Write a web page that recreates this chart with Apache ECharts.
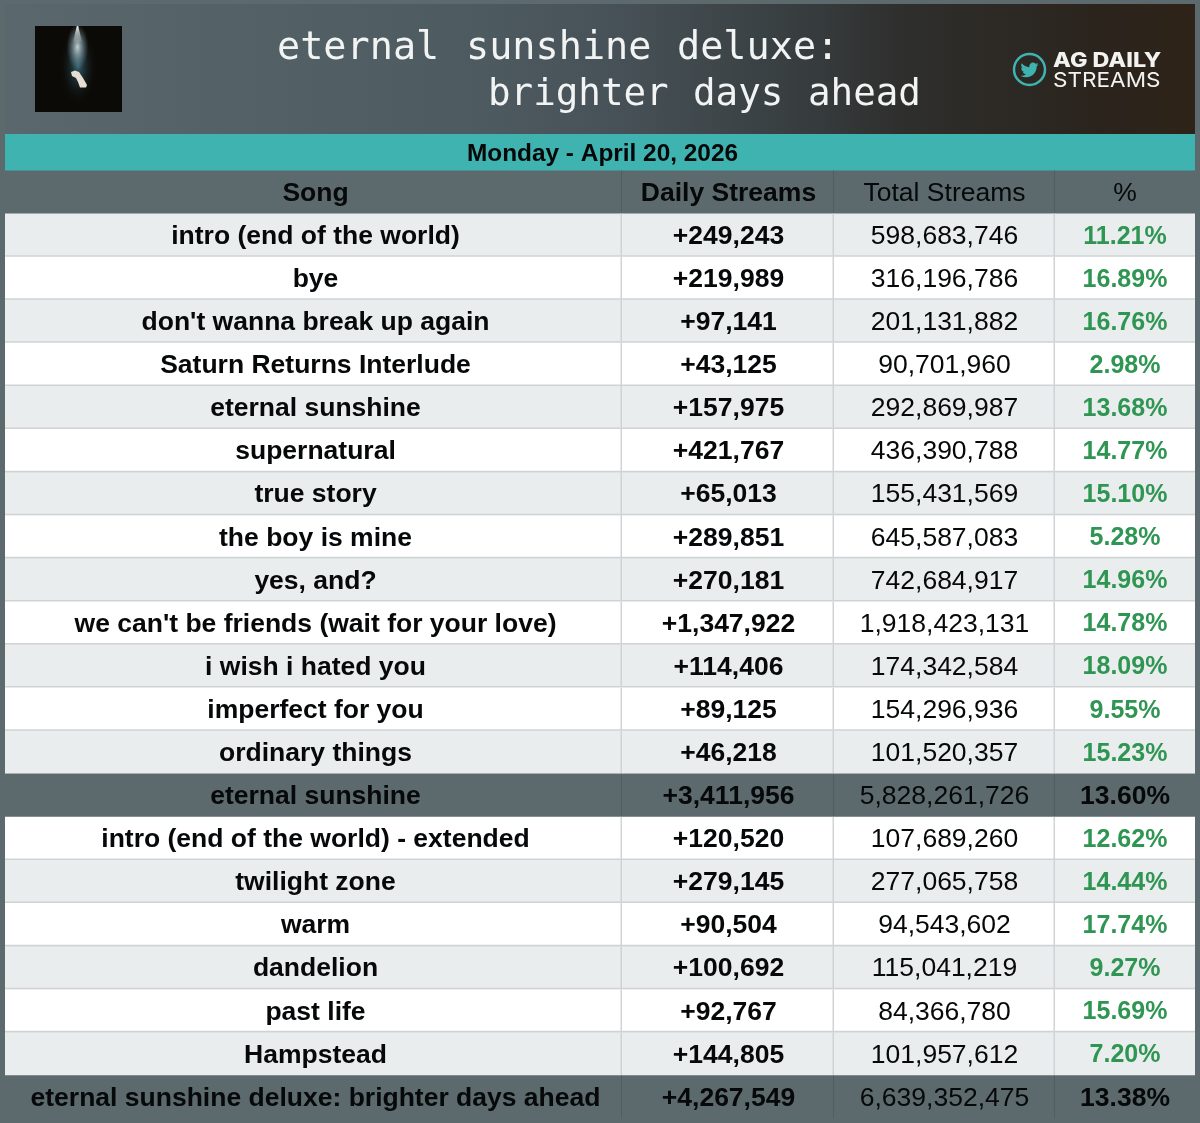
<!DOCTYPE html>
<html>
<head>
<meta charset="utf-8">
<title>eternal sunshine deluxe: brighter days ahead</title>
<script src="https://cdn.jsdelivr.net/npm/echarts@6/dist/echarts.min.js"></script>
<style>
  html, body { margin: 0; padding: 0; background: #5c6a6e; }
  #main { width: 1200px; height: 1123px; }
</style>
</head>
<body>
<div id="main"></div>
<script>
// table content
var columns = ['Song', 'Daily Streams', 'Total Streams', '%'];
var songs = [
  'intro (end of the world)', 'bye', "don't wanna break up again", 'Saturn Returns Interlude',
  'eternal sunshine', 'supernatural', 'true story', 'the boy is mine', 'yes, and?',
  "we can't be friends (wait for your love)", 'i wish i hated you', 'imperfect for you',
  'ordinary things', 'eternal sunshine', 'intro (end of the world) - extended', 'twilight zone',
  'warm', 'dandelion', 'past life', 'Hampstead', 'eternal sunshine deluxe: brighter days ahead'
];
var dailyStreams = [
  '+249,243', '+219,989', '+97,141', '+43,125', '+157,975', '+421,767', '+65,013', '+289,851',
  '+270,181', '+1,347,922', '+114,406', '+89,125', '+46,218', '+3,411,956', '+120,520',
  '+279,145', '+90,504', '+100,692', '+92,767', '+144,805', '+4,267,549'
];
var totalStreams = [
  '598,683,746', '316,196,786', '201,131,882', '90,701,960', '292,869,987', '436,390,788',
  '155,431,569', '645,587,083', '742,684,917', '1,918,423,131', '174,342,584', '154,296,936',
  '101,520,357', '5,828,261,726', '107,689,260', '277,065,758', '94,543,602', '115,041,219',
  '84,366,780', '101,957,612', '6,639,352,475'
];
var percents = [
  '11.21%', '16.89%', '16.76%', '2.98%', '13.68%', '14.77%', '15.10%', '5.28%', '14.96%',
  '14.78%', '18.09%', '9.55%', '15.23%', '13.60%', '12.62%', '14.44%', '17.74%', '9.27%',
  '15.69%', '7.20%', '13.38%'
];
var summaryRows = [13, 20]; // subtotal rows, index into songs

// x axis runs in page pixels: column borders and where the text sits
var columnEdges = [5, 622, 834, 1055, 1195];
var columnCentres = [315.5, 728.5, 944.5, 1125];

var BG = '#5c6a6e';
var FONT = '"Liberation Sans", Arial, sans-serif';
var MONO = '"DejaVu Sans Mono", monospace';
var rowLabels = ['header'].concat(songs);
var cells = [];
var bodyColumns = [songs, dailyStreams, totalStreams, percents];
columns.forEach(function (name, c) {
  cells.push([c, 0, name]);
  bodyColumns[c].forEach(function (v, r) {
    cells.push([c, r + 1, v]);
  });
});

function renderCell(params, api) {
  var col = api.value(0);
  var row = api.value(1);
  var text = cells[params.dataIndex][2];
  var left = api.coord([columnEdges[col], row])[0];
  var right = api.coord([columnEdges[col + 1], row])[0];
  var cy = api.coord([left, row])[1];
  var h = api.size([0, 1])[1];
  var top = cy - h / 2;
  var isHeader = row === 0;
  var isSum = summaryRows.indexOf(row - 1) >= 0;
  var plain = isHeader || isSum;
  // the block after the first subtotal starts again on white
  var light = row < 14 ? row % 2 === 1 : row % 2 === 0;
  var fill = plain ? BG : (light ? '#e9edee' : '#ffffff');
  var lineColor = plain ? '#505d61' : '#cfd3d5';
  var weight = 'bold';
  var color = '#060809';
  var size = 26.5;
  if (col === 2) weight = 'normal';
  if (isHeader && col === 3) weight = 'normal';
  if (!plain && col === 3) { color = '#2f9552'; size = 25; }
  var children = [{
    type: 'rect',
    shape: { x: left, y: top, width: right - left, height: row === 14 ? h + 2 : h },
    style: { fill: fill }
  }];
  if (col < 3) {
    children.push({
      type: 'line',
      shape: { x1: right - 0.5, y1: top, x2: right - 0.5, y2: top + h },
      style: { stroke: lineColor, lineWidth: plain ? 1 : 2 }
    });
  }
  if (!plain && row !== 13 && row !== 20) {
    children.push({
      type: 'line',
      shape: { x1: left, y1: top + h - 0.5, x2: right, y2: top + h - 0.5 },
      style: { stroke: lineColor, lineWidth: 2 }
    });
  }
  children.push({
    type: 'text',
    style: {
      x: api.coord([columnCentres[col], row])[0],
      y: cy + 1.5,
      text: text,
      font: weight + ' ' + size + 'px ' + FONT,
      fill: color,
      textAlign: 'center',
      textVerticalAlign: 'middle'
    }
  });
  return { type: 'group', children: children };
}

// zrender does not read packed arc flags, so they are written out
var birdPath = 'M23.953 4.57 a10 10 0 0 1 -2.825 .775 a4.958 4.958 0 0 0 2.163 -2.723 c-.951 .555 -2.005 .959 -3.127 1.184 a4.92 4.92 0 0 0 -8.384 4.482 C7.69 8.095 4.067 6.13 1.64 3.162 a4.822 4.822 0 0 0 -.666 2.475 c0 1.71 .87 3.213 2.188 4.096 a4.904 4.904 0 0 1 -2.228 -.616 v.06 a4.923 4.923 0 0 0 3.946 4.827 a4.996 4.996 0 0 1 -2.212 .085 a4.936 4.936 0 0 0 4.604 3.417 a9.867 9.867 0 0 1 -6.102 2.105 c-.39 0 -.779 -.023 -1.17 -.067 a13.995 13.995 0 0 0 7.557 2.209 c9.053 0 13.998 -7.496 13.998 -13.985 c0 -.21 0 -.42 -.015 -.63 A9.935 9.935 0 0 0 24 4.59 z';
echarts.graphic.registerShape('bird', echarts.graphic.extendPath(birdPath, {}));

function titleWord(x, y, word, size) {
  return {
    type: 'text',
    style: { x: x, y: y, text: word, font: size + 'px ' + MONO, fill: '#f2f4f4', textAlign: 'left', textVerticalAlign: 'middle' }
  };
}

function logoWord(y, word, weight, stretch) {
  return {
    type: 'text', x: 1053, y: y, scaleX: stretch,
    style: { x: 0, y: 0, text: word, font: weight + ' 20.5px Inter, sans-serif', fill: '#f2f2f0', textAlign: 'left', textVerticalAlign: 'middle' }
  };
}

// radial fills stay round, so the glows are stretched circles
function glow(x, y, r, stretch, inner, outer) {
  return {
    type: 'circle', x: x, y: y, scaleY: stretch,
    shape: { cx: 0, cy: 0, r: r },
    style: {
      fill: new echarts.graphic.RadialGradient(0.5, 0.5, 0.5, [
        { offset: 0, color: inner }, { offset: 1, color: outer }
      ])
    }
  };
}

var chart = echarts.init(document.getElementById('main'));
chart.setOption({
  animation: false,
  backgroundColor: BG,
  grid: { left: 0, right: 0, top: 170.5, bottom: 4.5 },
  xAxis: { type: 'value', min: 0, max: 1200, show: false },
  yAxis: { type: 'category', data: rowLabels, inverse: true, show: false },
  graphic: [
    // header strip
    { type: 'rect', shape: { x: 5, y: 4, width: 1190, height: 130 }, style: {
      fill: new echarts.graphic.LinearGradient(0, 0, 1, 0, [
        { offset: 0, color: '#5a686d' }, { offset: 0.4, color: '#4d5a60' },
        { offset: 0.5, color: '#485359' }, { offset: 0.67, color: '#373d3f' },
        { offset: 0.76, color: '#2e2e2c' }, { offset: 0.92, color: '#2b241d' },
        { offset: 1, color: '#2e2318' }
      ])
    } },
    // album cover
    { type: 'rect', shape: { x: 35, y: 26, width: 87, height: 86 }, style: { fill: '#0b0a06' } },
    glow(78, 66, 19, 2.1, 'rgba(60,110,128,0.85)', 'rgba(11,10,6,0)'),
    glow(77.5, 47, 11, 2.1, 'rgba(225,238,242,0.85)', 'rgba(120,160,175,0)'),
    { type: 'polygon', shape: { points: [[76.8, 26], [78.2, 26], [82, 42], [73, 42]] }, style: {
      fill: new echarts.graphic.LinearGradient(0, 0, 0, 1, [
        { offset: 0, color: 'rgba(255,255,255,0.95)' }, { offset: 1, color: 'rgba(225,238,242,0.1)' }
      ])
    } },
    { type: 'polygon', shape: { points: [[71, 72], [75, 70.5], [79, 72], [83, 78], [87, 85], [86, 87.5], [80, 87.5], [78, 82], [76, 78], [72, 76]] },
      style: { fill: '#e6ded2' } },
    // title
    titleWord(277, 49, 'eternal', 38.5),
    titleWord(466, 49, 'sunshine', 38.5),
    titleWord(677, 49, 'deluxe:', 38.5),
    titleWord(488, 95, 'brighter', 37.5),
    titleWord(693, 95, 'days', 37.5),
    titleWord(808, 95, 'ahead', 37.5),
    // handle logo
    { type: 'circle', shape: { cx: 1029.5, cy: 69.5, r: 15.5 }, style: { fill: 'none', stroke: '#3fb3b0', lineWidth: 2.5 } },
    { type: 'bird', x: 1020.5, y: 61, scaleX: 18 / 24, scaleY: 18 / 24, style: { fill: '#3fb3b0' } },
    logoWord(61, 'AG DAILY', 800, 1.138),
    logoWord(81, 'STREAMS', 400, 1.1),
    // date band
    { type: 'rect', shape: { x: 5, y: 134, width: 1190, height: 37 }, style: { fill: '#3fb3b0' } },
    { type: 'text', style: { x: 602.5, y: 154.5, text: 'Monday - April 20, 2026', font: 'bold 24.4px ' + FONT, fill: '#050708', textAlign: 'center', textVerticalAlign: 'middle' } }
  ],
  series: [{
    type: 'custom',
    coordinateSystem: 'cartesian2d',
    renderItem: renderCell,
    encode: { x: 0, y: 1 },
    silent: true,
    clip: false,
    data: cells.map(function (c) { return [c[0], c[1]]; })
  }]
});
</script>
</body>
</html>
